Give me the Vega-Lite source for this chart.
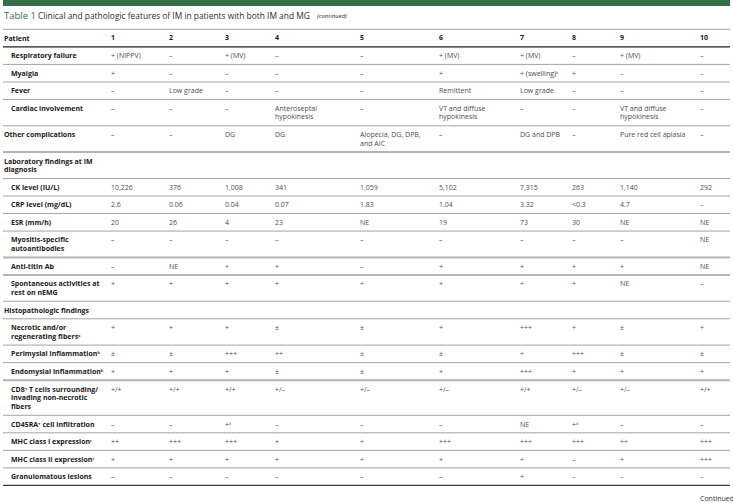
{
  "$schema": "https://vega.github.io/schema/vega-lite/v6.json",
  "width": 733,
  "height": 503,
  "autosize": {"type": "fit", "contains": "padding"},
  "padding": 0,
  "background": "white",
  "config": {
    "view": {"stroke": null},
    "axis": {"disable": true},
    "legend": {"disable": true}
  },
  "datasets": {
    "one": [{}],
    "titles": [
      {"part": "number", "text": "Table 1"},
      {"part": "caption", "text": "Clinical and pathologic features of IM in patients with both IM and MG"},
      {"part": "note", "text": "(continued)"},
      {"part": "foot", "text": "Continued"}
    ],
    "patients": [
      {"patient": 1}, {"patient": 2}, {"patient": 3}, {"patient": 4}, {"patient": 5},
      {"patient": 6}, {"patient": 7}, {"patient": 8}, {"patient": 9}, {"patient": 10}
    ],
    "labels": [
      {"row": "r00", "level": "section", "label": "Patient"},
      {"row": "r01", "level": "item", "label": "Respiratory failure"},
      {"row": "r02", "level": "item", "label": "Myalgia"},
      {"row": "r03", "level": "item", "label": "Fever"},
      {"row": "r04", "level": "item", "label": "Cardiac involvement"},
      {"row": "r05", "level": "section", "label": "Other complications"},
      {"row": "r06", "level": "section", "label": "Laboratory findings at IM\ndiagnosis"},
      {"row": "r07", "level": "item", "label": "CK level (IU/L)"},
      {"row": "r08", "level": "item", "label": "CRP level (mg/dL)"},
      {"row": "r09", "level": "item", "label": "ESR (mm/h)"},
      {"row": "r10", "level": "item", "label": "Myositis-specific\n\u00a0\u00a0\u00a0autoantibodies"},
      {"row": "r11", "level": "item", "label": "Anti-titin Ab"},
      {"row": "r12", "level": "item", "label": "Spontaneous activities at\n\u00a0\u00a0\u00a0rest on nEMG"},
      {"row": "r13", "level": "section", "label": "Histopathologic findings"},
      {"row": "r14", "level": "item", "label": "Necrotic and/or\n\u00a0\u00a0\u00a0regenerating fibersᵃ"},
      {"row": "r15", "level": "item", "label": "Perimysial inflammationᵇ"},
      {"row": "r16", "level": "item", "label": "Endomysial inflammationᵇ"},
      {"row": "r17", "level": "item", "label": "CD8⁺ T cells surrounding/\n\u00a0\u00a0\u00a0invading non-necrotic\n\u00a0\u00a0\u00a0fibers"},
      {"row": "r18", "level": "item", "label": "CD45RA⁺ cell infiltration"},
      {"row": "r19", "level": "item", "label": "MHC class I expressionᶜ"},
      {"row": "r20", "level": "item", "label": "MHC class II expressionᶜ"},
      {"row": "r21", "level": "item", "label": "Granulomatous lesions"}
    ],
    "values": [
      {"row": "r01", "patient": 1, "value": "+ (NIPPV)"}, {"row": "r01", "patient": 2, "value": "–"}, {"row": "r01", "patient": 3, "value": "+ (MV)"}, {"row": "r01", "patient": 4, "value": "–"}, {"row": "r01", "patient": 5, "value": "–"}, {"row": "r01", "patient": 6, "value": "+ (MV)"}, {"row": "r01", "patient": 7, "value": "+ (MV)"}, {"row": "r01", "patient": 8, "value": "–"}, {"row": "r01", "patient": 9, "value": "+ (MV)"}, {"row": "r01", "patient": 10, "value": "–"},
      {"row": "r02", "patient": 1, "value": "+"}, {"row": "r02", "patient": 2, "value": "–"}, {"row": "r02", "patient": 3, "value": "–"}, {"row": "r02", "patient": 4, "value": "–"}, {"row": "r02", "patient": 5, "value": "–"}, {"row": "r02", "patient": 6, "value": "+"}, {"row": "r02", "patient": 7, "value": "+ (swelling)ʰ"}, {"row": "r02", "patient": 8, "value": "+"}, {"row": "r02", "patient": 9, "value": "–"}, {"row": "r02", "patient": 10, "value": "–"},
      {"row": "r03", "patient": 1, "value": "–"}, {"row": "r03", "patient": 2, "value": "Low grade"}, {"row": "r03", "patient": 3, "value": "–"}, {"row": "r03", "patient": 4, "value": "–"}, {"row": "r03", "patient": 5, "value": "–"}, {"row": "r03", "patient": 6, "value": "Remittent"}, {"row": "r03", "patient": 7, "value": "Low grade"}, {"row": "r03", "patient": 8, "value": "–"}, {"row": "r03", "patient": 9, "value": "–"}, {"row": "r03", "patient": 10, "value": "–"},
      {"row": "r04", "patient": 1, "value": "–"}, {"row": "r04", "patient": 2, "value": "–"}, {"row": "r04", "patient": 3, "value": "–"}, {"row": "r04", "patient": 4, "value": "Anteroseptal\nhypokinesis"}, {"row": "r04", "patient": 5, "value": "–"}, {"row": "r04", "patient": 6, "value": "VT and diffuse\nhypokinesis"}, {"row": "r04", "patient": 7, "value": "–"}, {"row": "r04", "patient": 8, "value": "–"}, {"row": "r04", "patient": 9, "value": "VT and diffuse\nhypokinesis"}, {"row": "r04", "patient": 10, "value": "–"},
      {"row": "r05", "patient": 1, "value": "–"}, {"row": "r05", "patient": 2, "value": "–"}, {"row": "r05", "patient": 3, "value": "DG"}, {"row": "r05", "patient": 4, "value": "DG"}, {"row": "r05", "patient": 5, "value": "Alopecia, DG, DPB,\nand AIC"}, {"row": "r05", "patient": 6, "value": "–"}, {"row": "r05", "patient": 7, "value": "DG and DPB"}, {"row": "r05", "patient": 8, "value": "–"}, {"row": "r05", "patient": 9, "value": "Pure red cell aplasia"}, {"row": "r05", "patient": 10, "value": "–"},
      {"row": "r07", "patient": 1, "value": "10,226"}, {"row": "r07", "patient": 2, "value": "376"}, {"row": "r07", "patient": 3, "value": "1,008"}, {"row": "r07", "patient": 4, "value": "341"}, {"row": "r07", "patient": 5, "value": "1,059"}, {"row": "r07", "patient": 6, "value": "5,102"}, {"row": "r07", "patient": 7, "value": "7,315"}, {"row": "r07", "patient": 8, "value": "263"}, {"row": "r07", "patient": 9, "value": "1,140"}, {"row": "r07", "patient": 10, "value": "292"},
      {"row": "r08", "patient": 1, "value": "2.6"}, {"row": "r08", "patient": 2, "value": "0.06"}, {"row": "r08", "patient": 3, "value": "0.04"}, {"row": "r08", "patient": 4, "value": "0.07"}, {"row": "r08", "patient": 5, "value": "1.83"}, {"row": "r08", "patient": 6, "value": "1.04"}, {"row": "r08", "patient": 7, "value": "3.32"}, {"row": "r08", "patient": 8, "value": "<0.3"}, {"row": "r08", "patient": 9, "value": "4.7"}, {"row": "r08", "patient": 10, "value": "–"},
      {"row": "r09", "patient": 1, "value": "20"}, {"row": "r09", "patient": 2, "value": "26"}, {"row": "r09", "patient": 3, "value": "4"}, {"row": "r09", "patient": 4, "value": "23"}, {"row": "r09", "patient": 5, "value": "NE"}, {"row": "r09", "patient": 6, "value": "19"}, {"row": "r09", "patient": 7, "value": "73"}, {"row": "r09", "patient": 8, "value": "30"}, {"row": "r09", "patient": 9, "value": "NE"}, {"row": "r09", "patient": 10, "value": "NE"},
      {"row": "r10", "patient": 1, "value": "–"}, {"row": "r10", "patient": 2, "value": "–"}, {"row": "r10", "patient": 3, "value": "–"}, {"row": "r10", "patient": 4, "value": "–"}, {"row": "r10", "patient": 5, "value": "–"}, {"row": "r10", "patient": 6, "value": "–"}, {"row": "r10", "patient": 7, "value": "–"}, {"row": "r10", "patient": 8, "value": "–"}, {"row": "r10", "patient": 9, "value": "–"}, {"row": "r10", "patient": 10, "value": "NE"},
      {"row": "r11", "patient": 1, "value": "–"}, {"row": "r11", "patient": 2, "value": "NE"}, {"row": "r11", "patient": 3, "value": "+"}, {"row": "r11", "patient": 4, "value": "+"}, {"row": "r11", "patient": 5, "value": "–"}, {"row": "r11", "patient": 6, "value": "+"}, {"row": "r11", "patient": 7, "value": "+"}, {"row": "r11", "patient": 8, "value": "+"}, {"row": "r11", "patient": 9, "value": "+"}, {"row": "r11", "patient": 10, "value": "NE"},
      {"row": "r12", "patient": 1, "value": "+"}, {"row": "r12", "patient": 2, "value": "+"}, {"row": "r12", "patient": 3, "value": "+"}, {"row": "r12", "patient": 4, "value": "+"}, {"row": "r12", "patient": 5, "value": "+"}, {"row": "r12", "patient": 6, "value": "+"}, {"row": "r12", "patient": 7, "value": "+"}, {"row": "r12", "patient": 8, "value": "+"}, {"row": "r12", "patient": 9, "value": "NE"}, {"row": "r12", "patient": 10, "value": "–"},
      {"row": "r14", "patient": 1, "value": "+"}, {"row": "r14", "patient": 2, "value": "+"}, {"row": "r14", "patient": 3, "value": "+"}, {"row": "r14", "patient": 4, "value": "±"}, {"row": "r14", "patient": 5, "value": "±"}, {"row": "r14", "patient": 6, "value": "+"}, {"row": "r14", "patient": 7, "value": "+++"}, {"row": "r14", "patient": 8, "value": "+"}, {"row": "r14", "patient": 9, "value": "±"}, {"row": "r14", "patient": 10, "value": "+"},
      {"row": "r15", "patient": 1, "value": "±"}, {"row": "r15", "patient": 2, "value": "±"}, {"row": "r15", "patient": 3, "value": "+++"}, {"row": "r15", "patient": 4, "value": "++"}, {"row": "r15", "patient": 5, "value": "±"}, {"row": "r15", "patient": 6, "value": "±"}, {"row": "r15", "patient": 7, "value": "+"}, {"row": "r15", "patient": 8, "value": "+++"}, {"row": "r15", "patient": 9, "value": "±"}, {"row": "r15", "patient": 10, "value": "±"},
      {"row": "r16", "patient": 1, "value": "+"}, {"row": "r16", "patient": 2, "value": "+"}, {"row": "r16", "patient": 3, "value": "+"}, {"row": "r16", "patient": 4, "value": "±"}, {"row": "r16", "patient": 5, "value": "±"}, {"row": "r16", "patient": 6, "value": "+"}, {"row": "r16", "patient": 7, "value": "+++"}, {"row": "r16", "patient": 8, "value": "+"}, {"row": "r16", "patient": 9, "value": "+"}, {"row": "r16", "patient": 10, "value": "+"},
      {"row": "r17", "patient": 1, "value": "+/+"}, {"row": "r17", "patient": 2, "value": "+/+"}, {"row": "r17", "patient": 3, "value": "+/+"}, {"row": "r17", "patient": 4, "value": "+/–"}, {"row": "r17", "patient": 5, "value": "+/–"}, {"row": "r17", "patient": 6, "value": "+/–"}, {"row": "r17", "patient": 7, "value": "+/+"}, {"row": "r17", "patient": 8, "value": "+/–"}, {"row": "r17", "patient": 9, "value": "+/–"}, {"row": "r17", "patient": 10, "value": "+/+"},
      {"row": "r18", "patient": 1, "value": "–"}, {"row": "r18", "patient": 2, "value": "–"}, {"row": "r18", "patient": 3, "value": "+ᵈ"}, {"row": "r18", "patient": 4, "value": "–"}, {"row": "r18", "patient": 5, "value": "–"}, {"row": "r18", "patient": 6, "value": "–"}, {"row": "r18", "patient": 7, "value": "NE"}, {"row": "r18", "patient": 8, "value": "+ᵈ"}, {"row": "r18", "patient": 9, "value": "–"}, {"row": "r18", "patient": 10, "value": "–"},
      {"row": "r19", "patient": 1, "value": "++"}, {"row": "r19", "patient": 2, "value": "+++"}, {"row": "r19", "patient": 3, "value": "+++"}, {"row": "r19", "patient": 4, "value": "+"}, {"row": "r19", "patient": 5, "value": "+"}, {"row": "r19", "patient": 6, "value": "+++"}, {"row": "r19", "patient": 7, "value": "+++"}, {"row": "r19", "patient": 8, "value": "+++"}, {"row": "r19", "patient": 9, "value": "++"}, {"row": "r19", "patient": 10, "value": "+++"},
      {"row": "r20", "patient": 1, "value": "+"}, {"row": "r20", "patient": 2, "value": "+"}, {"row": "r20", "patient": 3, "value": "+"}, {"row": "r20", "patient": 4, "value": "+"}, {"row": "r20", "patient": 5, "value": "+"}, {"row": "r20", "patient": 6, "value": "+"}, {"row": "r20", "patient": 7, "value": "+"}, {"row": "r20", "patient": 8, "value": "–"}, {"row": "r20", "patient": 9, "value": "+"}, {"row": "r20", "patient": 10, "value": "+++"},
      {"row": "r21", "patient": 1, "value": "–"}, {"row": "r21", "patient": 2, "value": "–"}, {"row": "r21", "patient": 3, "value": "–"}, {"row": "r21", "patient": 4, "value": "–"}, {"row": "r21", "patient": 5, "value": "–"}, {"row": "r21", "patient": 6, "value": "–"}, {"row": "r21", "patient": 7, "value": "+"}, {"row": "r21", "patient": 8, "value": "–"}, {"row": "r21", "patient": 9, "value": "–"}, {"row": "r21", "patient": 10, "value": "–"}
    ]
  },
  "layer": [
    {
      "data": {"name": "labels"},
      "mark": {"type": "rule", "color": "#a3a3a3", "strokeWidth": 1},
      "encoding": {
        "y": {"field": "row", "type": "nominal", "bandPosition": 0, "scale": {"type": "band", "paddingInner": 0, "paddingOuter": 0, "domain": ["t0","t1","t2","r00","r00_","r01","r01_","r02","r02_","r03","r03_","r04","r04_","r04__","r05","r05_","r05__","r06","r06_","r06__","r07","r07_","r08","r08_","r09","r09_","r10","r10_","r10__","r11","r11_","r12","r12_","r12__","r13","r13_","r14","r14_","r14__","r15","r15_","r16","r16_","r17","r17_","r17__","r17___","r18","r18_","r19","r19_","r20","r20_","r21","r21_","z0","z1"]}}
      }
    },
    {
      "data": {"name": "labels"},
      "transform": [{"filter": {"field": "row", "oneOf": ["r06", "r11", "r12", "r17"]}}],
      "mark": {"type": "rule", "color": "#b5b5b5", "strokeWidth": 2},
      "encoding": {
        "y": {"field": "row", "type": "nominal", "bandPosition": 0, "scale": {"type": "band", "paddingInner": 0, "paddingOuter": 0, "domain": ["t0","t1","t2","r00","r00_","r01","r01_","r02","r02_","r03","r03_","r04","r04_","r04__","r05","r05_","r05__","r06","r06_","r06__","r07","r07_","r08","r08_","r09","r09_","r10","r10_","r10__","r11","r11_","r12","r12_","r12__","r13","r13_","r14","r14_","r14__","r15","r15_","r16","r16_","r17","r17_","r17__","r17___","r18","r18_","r19","r19_","r20","r20_","r21","r21_","z0","z1"]}}
      }
    },
    {
      "data": {"name": "one"},
      "mark": {"type": "rule", "color": "#346f47", "strokeWidth": 6},
      "encoding": {
        "y": {"datum": "t0", "type": "nominal", "bandPosition": 0, "scale": {"type": "band", "paddingInner": 0, "paddingOuter": 0, "domain": ["t0","t1","t2","r00","r00_","r01","r01_","r02","r02_","r03","r03_","r04","r04_","r04__","r05","r05_","r05__","r06","r06_","r06__","r07","r07_","r08","r08_","r09","r09_","r10","r10_","r10__","r11","r11_","r12","r12_","r12__","r13","r13_","r14","r14_","r14__","r15","r15_","r16","r16_","r17","r17_","r17__","r17___","r18","r18_","r19","r19_","r20","r20_","r21","r21_","z0","z1"]}}
      }
    },
    {
      "data": {"name": "one"},
      "mark": {"type": "rule", "color": "#3a3a3a", "strokeWidth": 1.2},
      "encoding": {
        "y": {"datum": "r01", "type": "nominal", "bandPosition": 0, "scale": {"type": "band", "paddingInner": 0, "paddingOuter": 0, "domain": ["t0","t1","t2","r00","r00_","r01","r01_","r02","r02_","r03","r03_","r04","r04_","r04__","r05","r05_","r05__","r06","r06_","r06__","r07","r07_","r08","r08_","r09","r09_","r10","r10_","r10__","r11","r11_","r12","r12_","r12__","r13","r13_","r14","r14_","r14__","r15","r15_","r16","r16_","r17","r17_","r17__","r17___","r18","r18_","r19","r19_","r20","r20_","r21","r21_","z0","z1"]}}
      }
    },
    {
      "data": {"name": "one"},
      "mark": {"type": "rule", "color": "#3a3a3a", "strokeWidth": 1.2},
      "encoding": {
        "y": {"datum": "z0", "type": "nominal", "bandPosition": 0, "scale": {"type": "band", "paddingInner": 0, "paddingOuter": 0, "domain": ["t0","t1","t2","r00","r00_","r01","r01_","r02","r02_","r03","r03_","r04","r04_","r04__","r05","r05_","r05__","r06","r06_","r06__","r07","r07_","r08","r08_","r09","r09_","r10","r10_","r10__","r11","r11_","r12","r12_","r12__","r13","r13_","r14","r14_","r14__","r15","r15_","r16","r16_","r17","r17_","r17__","r17___","r18","r18_","r19","r19_","r20","r20_","r21","r21_","z0","z1"]}}
      }
    },
    {
      "data": {"name": "titles"},
      "transform": [{"filter": "datum.part === 'number'"}],
      "mark": {"type": "text", "font": "Open Sans", "fontSize": 9.5, "color": "#346f47", "align": "left", "baseline": "middle"},
      "encoding": {
        "text": {"field": "text"},
        "x": {"datum": 0, "type": "quantitative", "scale": {"type": "linear", "nice": false, "zero": false, "domain": [0,1,2,3,4,5,6,7,8,9,10], "range": [1,108,166,222,272,357,436,517,569,617,697]}},
        "y": {"datum": "t1", "type": "nominal", "scale": {"type": "band", "paddingInner": 0, "paddingOuter": 0, "domain": ["t0","t1","t2","r00","r00_","r01","r01_","r02","r02_","r03","r03_","r04","r04_","r04__","r05","r05_","r05__","r06","r06_","r06__","r07","r07_","r08","r08_","r09","r09_","r10","r10_","r10__","r11","r11_","r12","r12_","r12__","r13","r13_","r14","r14_","r14__","r15","r15_","r16","r16_","r17","r17_","r17__","r17___","r18","r18_","r19","r19_","r20","r20_","r21","r21_","z0","z1"]}}
      }
    },
    {
      "data": {"name": "titles"},
      "transform": [{"filter": "datum.part === 'caption'"}],
      "mark": {"type": "text", "font": "Open Sans", "fontSize": 8.4, "color": "#2b2b2b", "align": "left", "baseline": "middle", "dx": 34},
      "encoding": {
        "text": {"field": "text"},
        "x": {"datum": 0, "type": "quantitative", "scale": {"type": "linear", "nice": false, "zero": false, "domain": [0,1,2,3,4,5,6,7,8,9,10], "range": [1,108,166,222,272,357,436,517,569,617,697]}},
        "y": {"datum": "t1", "type": "nominal", "scale": {"type": "band", "paddingInner": 0, "paddingOuter": 0, "domain": ["t0","t1","t2","r00","r00_","r01","r01_","r02","r02_","r03","r03_","r04","r04_","r04__","r05","r05_","r05__","r06","r06_","r06__","r07","r07_","r08","r08_","r09","r09_","r10","r10_","r10__","r11","r11_","r12","r12_","r12__","r13","r13_","r14","r14_","r14__","r15","r15_","r16","r16_","r17","r17_","r17__","r17___","r18","r18_","r19","r19_","r20","r20_","r21","r21_","z0","z1"]}}
      }
    },
    {
      "data": {"name": "titles"},
      "transform": [{"filter": "datum.part === 'note'"}],
      "mark": {"type": "text", "font": "Open Sans", "fontSize": 6, "fontStyle": "italic", "color": "#2b2b2b", "align": "left", "baseline": "middle", "dx": 313},
      "encoding": {
        "text": {"field": "text"},
        "x": {"datum": 0, "type": "quantitative", "scale": {"type": "linear", "nice": false, "zero": false, "domain": [0,1,2,3,4,5,6,7,8,9,10], "range": [1,108,166,222,272,357,436,517,569,617,697]}},
        "y": {"datum": "t1", "type": "nominal", "scale": {"type": "band", "paddingInner": 0, "paddingOuter": 0, "domain": ["t0","t1","t2","r00","r00_","r01","r01_","r02","r02_","r03","r03_","r04","r04_","r04__","r05","r05_","r05__","r06","r06_","r06__","r07","r07_","r08","r08_","r09","r09_","r10","r10_","r10__","r11","r11_","r12","r12_","r12__","r13","r13_","r14","r14_","r14__","r15","r15_","r16","r16_","r17","r17_","r17__","r17___","r18","r18_","r19","r19_","r20","r20_","r21","r21_","z0","z1"]}}
      }
    },
    {
      "data": {"name": "titles"},
      "transform": [{"filter": "datum.part === 'foot'"}],
      "mark": {"type": "text", "font": "Open Sans", "fontSize": 7, "color": "#2b2b2b", "align": "left", "baseline": "middle"},
      "encoding": {
        "text": {"field": "text"},
        "x": {"datum": 10, "type": "quantitative", "scale": {"type": "linear", "nice": false, "zero": false, "domain": [0,1,2,3,4,5,6,7,8,9,10], "range": [1,108,166,222,272,357,436,517,569,617,697]}},
        "y": {"datum": "z1", "type": "nominal", "scale": {"type": "band", "paddingInner": 0, "paddingOuter": 0, "domain": ["t0","t1","t2","r00","r00_","r01","r01_","r02","r02_","r03","r03_","r04","r04_","r04__","r05","r05_","r05__","r06","r06_","r06__","r07","r07_","r08","r08_","r09","r09_","r10","r10_","r10__","r11","r11_","r12","r12_","r12__","r13","r13_","r14","r14_","r14__","r15","r15_","r16","r16_","r17","r17_","r17__","r17___","r18","r18_","r19","r19_","r20","r20_","r21","r21_","z0","z1"]}}
      }
    },
    {
      "data": {"name": "patients"},
      "mark": {"type": "text", "font": "Open Sans", "fontSize": 7, "fontWeight": "bold", "color": "#1a1a1a", "align": "left", "baseline": "middle"},
      "encoding": {
        "text": {"field": "patient", "type": "nominal"},
        "x": {"field": "patient", "type": "quantitative", "scale": {"type": "linear", "nice": false, "zero": false, "domain": [0,1,2,3,4,5,6,7,8,9,10], "range": [1,108,166,222,272,357,436,517,569,617,697]}},
        "y": {"datum": "r00", "type": "nominal", "bandPosition": 1, "scale": {"type": "band", "paddingInner": 0, "paddingOuter": 0, "domain": ["t0","t1","t2","r00","r00_","r01","r01_","r02","r02_","r03","r03_","r04","r04_","r04__","r05","r05_","r05__","r06","r06_","r06__","r07","r07_","r08","r08_","r09","r09_","r10","r10_","r10__","r11","r11_","r12","r12_","r12__","r13","r13_","r14","r14_","r14__","r15","r15_","r16","r16_","r17","r17_","r17__","r17___","r18","r18_","r19","r19_","r20","r20_","r21","r21_","z0","z1"]}}
      }
    },
    {
      "data": {"name": "labels"},
      "transform": [{"filter": "datum.level === 'section'"}],
      "mark": {"type": "text", "font": "Open Sans", "fontSize": 7, "lineHeight": 8.5, "lineBreak": "\n", "fontWeight": "bold", "color": "#1a1a1a", "align": "left", "baseline": "top", "dy": 1},
      "encoding": {
        "text": {"field": "label"},
        "x": {"datum": 0, "type": "quantitative", "scale": {"type": "linear", "nice": false, "zero": false, "domain": [0,1,2,3,4,5,6,7,8,9,10], "range": [1,108,166,222,272,357,436,517,569,617,697]}},
        "y": {"field": "row", "type": "nominal", "scale": {"type": "band", "paddingInner": 0, "paddingOuter": 0, "domain": ["t0","t1","t2","r00","r00_","r01","r01_","r02","r02_","r03","r03_","r04","r04_","r04__","r05","r05_","r05__","r06","r06_","r06__","r07","r07_","r08","r08_","r09","r09_","r10","r10_","r10__","r11","r11_","r12","r12_","r12__","r13","r13_","r14","r14_","r14__","r15","r15_","r16","r16_","r17","r17_","r17__","r17___","r18","r18_","r19","r19_","r20","r20_","r21","r21_","z0","z1"]}}
      }
    },
    {
      "data": {"name": "labels"},
      "transform": [{"filter": "datum.level === 'item'"}],
      "mark": {"type": "text", "font": "Open Sans", "fontSize": 7, "lineHeight": 8.5, "lineBreak": "\n", "fontWeight": "bold", "color": "#1a1a1a", "align": "left", "baseline": "top", "dx": 7, "dy": 1},
      "encoding": {
        "text": {"field": "label"},
        "x": {"datum": 0, "type": "quantitative", "scale": {"type": "linear", "nice": false, "zero": false, "domain": [0,1,2,3,4,5,6,7,8,9,10], "range": [1,108,166,222,272,357,436,517,569,617,697]}},
        "y": {"field": "row", "type": "nominal", "scale": {"type": "band", "paddingInner": 0, "paddingOuter": 0, "domain": ["t0","t1","t2","r00","r00_","r01","r01_","r02","r02_","r03","r03_","r04","r04_","r04__","r05","r05_","r05__","r06","r06_","r06__","r07","r07_","r08","r08_","r09","r09_","r10","r10_","r10__","r11","r11_","r12","r12_","r12__","r13","r13_","r14","r14_","r14__","r15","r15_","r16","r16_","r17","r17_","r17__","r17___","r18","r18_","r19","r19_","r20","r20_","r21","r21_","z0","z1"]}}
      }
    },
    {
      "data": {"name": "values"},
      "mark": {"type": "text", "font": "Open Sans", "fontSize": 7, "lineHeight": 8.5, "lineBreak": "\n", "color": "#4d4d4d", "align": "left", "baseline": "top", "dy": 1},
      "encoding": {
        "text": {"field": "value"},
        "x": {"field": "patient", "type": "quantitative", "scale": {"type": "linear", "nice": false, "zero": false, "domain": [0,1,2,3,4,5,6,7,8,9,10], "range": [1,108,166,222,272,357,436,517,569,617,697]}},
        "y": {"field": "row", "type": "nominal", "scale": {"type": "band", "paddingInner": 0, "paddingOuter": 0, "domain": ["t0","t1","t2","r00","r00_","r01","r01_","r02","r02_","r03","r03_","r04","r04_","r04__","r05","r05_","r05__","r06","r06_","r06__","r07","r07_","r08","r08_","r09","r09_","r10","r10_","r10__","r11","r11_","r12","r12_","r12__","r13","r13_","r14","r14_","r14__","r15","r15_","r16","r16_","r17","r17_","r17__","r17___","r18","r18_","r19","r19_","r20","r20_","r21","r21_","z0","z1"]}}
      }
    }
  ]
}
